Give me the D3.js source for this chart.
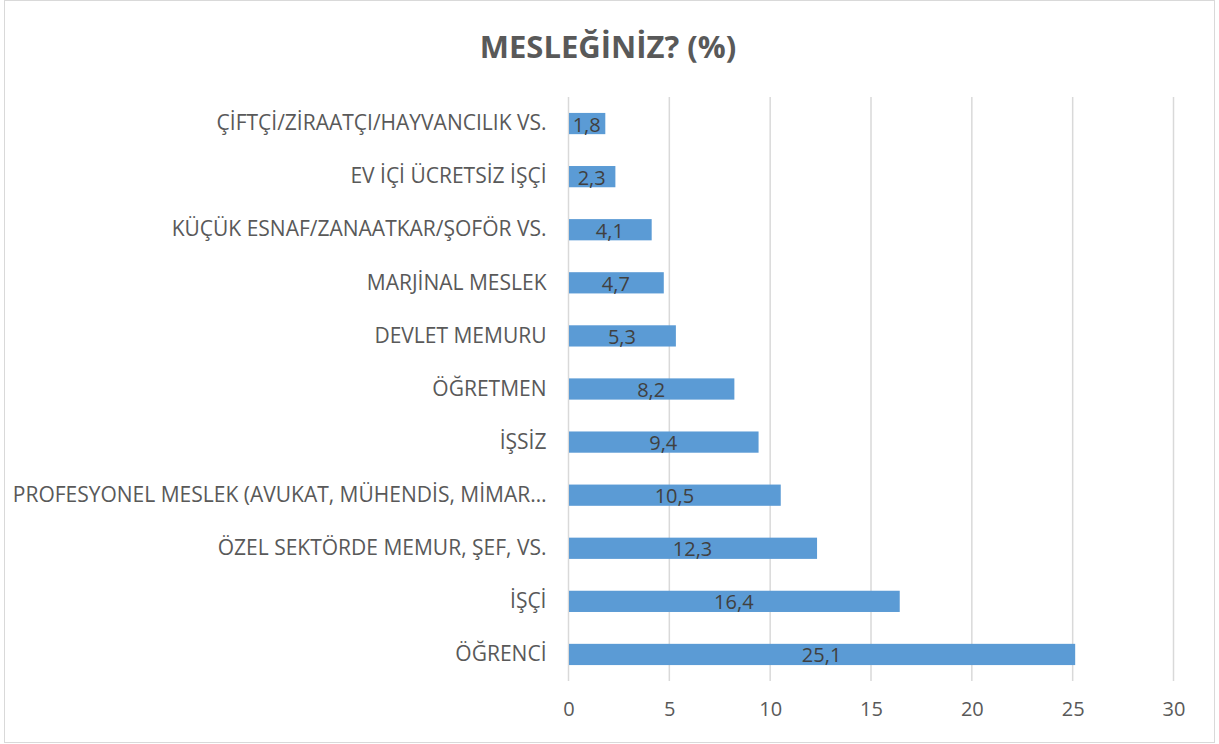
<!DOCTYPE html>
<html>
<head>
<meta charset="utf-8">
<script src="https://cdn.jsdelivr.net/npm/d3@7"></script>
<style>
  body { margin: 0; background: #fff; }
  svg { display: block; }
  text { font-family: "Open Sans", "DejaVu Sans", sans-serif; }
</style>
</head>
<body>
<svg width="1219" height="744"></svg>
<script>
// categories bottom to top as in the chart
var categories = [
  "ÖĞRENCİ",
  "İŞÇİ",
  "ÖZEL SEKTÖRDE MEMUR, ŞEF, VS.",
  "PROFESYONEL MESLEK (AVUKAT, MÜHENDİS, MİMAR…",
  "İŞSİZ",
  "ÖĞRETMEN",
  "DEVLET MEMURU",
  "MARJİNAL MESLEK",
  "KÜÇÜK ESNAF/ZANAATKAR/ŞOFÖR VS.",
  "EV İÇİ ÜCRETSİZ İŞÇİ",
  "ÇİFTÇİ/ZİRAATÇI/HAYVANCILIK VS."
];
var values = [25.1, 16.4, 12.3, 10.5, 9.4, 8.2, 5.3, 4.7, 4.1, 2.3, 1.8];
var xTicks = [0, 5, 10, 15, 20, 25, 30];

var svg = d3.select("svg");

// chart border
svg.append("rect")
  .attr("x", 4.5).attr("y", 0.5)
  .attr("width", 1210).attr("height", 742)
  .attr("fill", "#fff")
  .attr("stroke", "#d9d9d9");

svg.append("text")
  .attr("x", 608).attr("y", 58)
  .attr("text-anchor", "middle")
  .attr("font-size", 31)
  .attr("font-weight", "bold")
  .attr("fill", "#595959")
  .text("MESLEĞİNİZ? (%)");

var plotLeft = 568.5, plotRight = 1173.5, plotTop = 97, plotBottom = 681;

var x = d3.scaleLinear().domain([0, 30]).range([plotLeft, plotRight]);
var y = d3.scaleBand()
  .domain(categories.slice().reverse())
  .range([plotTop, plotBottom])
  .paddingInner(0.6)
  .paddingOuter(0.3);

// gridlines
svg.append("g")
  .selectAll("line")
  .data(xTicks)
  .enter()
  .append("line")
  .attr("x1", function (d) { return x(d); })
  .attr("x2", function (d) { return x(d); })
  .attr("y1", plotTop)
  .attr("y2", plotBottom)
  .attr("stroke", "#d9d9d9")
  .attr("stroke-width", 1.5);

// bars
svg.append("g")
  .selectAll("rect")
  .data(categories)
  .enter()
  .append("rect")
  .attr("x", x(0) + 0.5)
  .attr("y", function (d) { return y(d); })
  .attr("width", function (d, i) { return x(values[i]) - x(0); })
  .attr("height", y.bandwidth())
  .attr("fill", "#5b9bd5");

// bar labels
svg.append("g")
  .selectAll("text")
  .data(categories)
  .enter()
  .append("text")
  .attr("x", function (d, i) { return (x(0) + x(values[i])) / 2; })
  .attr("y", function (d) { return y(d) + y.bandwidth() / 2; })
  .attr("dy", "0.4em")
  .attr("text-anchor", "middle")
  .attr("font-size", 20)
  .attr("fill", "#404040")
  .text(function (d, i) { return String(values[i]).replace(".", ","); });

// category labels
var yAxis = svg.append("g")
  .attr("transform", "translate(" + (plotLeft - 1) + ",0)")
  .call(d3.axisLeft(y).tickSize(0).tickPadding(21));
yAxis.select(".domain").remove();
yAxis.selectAll("text")
  .attr("font-size", 21)
  .attr("fill", "#595959")
  .style("font-family", "'Open Sans', sans-serif");

// x axis labels
var xAxis = svg.append("g")
  .attr("transform", "translate(0," + plotBottom + ")")
  .call(d3.axisBottom(x).tickValues(xTicks).tickSize(0).tickPadding(21));
xAxis.select(".domain").remove();
xAxis.selectAll("text")
  .attr("font-size", 20)
  .attr("fill", "#595959")
  .style("font-family", "'Open Sans', sans-serif");
</script>
</body>
</html>
